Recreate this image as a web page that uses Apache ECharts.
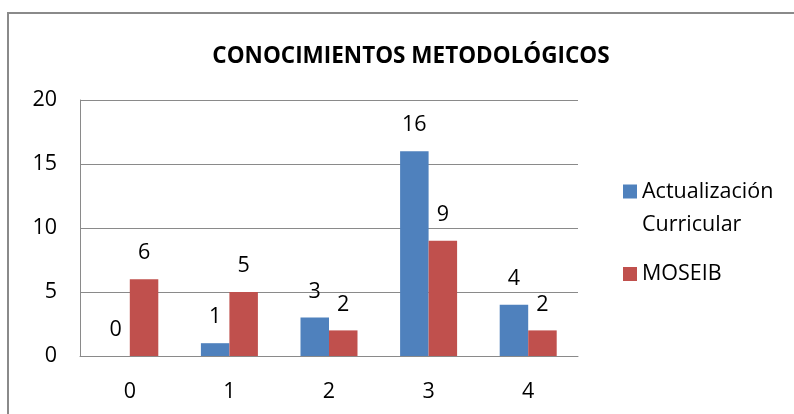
<!DOCTYPE html>
<html>
<head>
<meta charset="utf-8">
<title>Conocimientos metodológicos</title>
<script src="https://cdn.jsdelivr.net/npm/echarts@6/dist/echarts.min.js"></script>
<style>
  body { margin: 0; background: #fff; }
  #container { width: 794px; height: 414px; }
</style>
</head>
<body>
<div id="container"></div>
<script type="text/javascript">
var categories = ['0', '1', '2', '3', '4'];
var actualizacion = [0, 1, 3, 16, 4];
var moseib = [6, 5, 2, 9, 2];
var yTicks = [0, 5, 10, 15, 20];

var font = 'Open Sans';
var fs = 21.5;
var chart = echarts.init(document.getElementById('container'));

chart.setOption({
  animation: false,
  textStyle: { fontFamily: font },
  title: {
    text: 'CONOCIMIENTOS METODOLÓGICOS',
    left: 406,
    textAlign: 'center',
    top: 40,
    textStyle: { fontFamily: font, fontSize: 22.5, fontWeight: 'bold', color: '#000' }
  },
  graphic: [{
    type: 'rect',
    shape: { x: 8, y: 13, width: 800, height: 420 },
    style: { fill: null, stroke: '#8a8a8a', lineWidth: 2 },
    silent: true
  }],
  legend: [{
    orient: 'vertical',
    left: 618,
    top: 137,
    itemWidth: 14,
    itemHeight: 14,
    icon: 'rect',
    data: ['Actualización Curricular'],
    formatter: function () { return ' \nActualización\nCurricular'; },
    textStyle: { fontFamily: font, fontSize: fs, lineHeight: 33, color: '#000' }
  }, {
    orient: 'vertical',
    left: 618,
    top: 258,
    itemWidth: 14,
    itemHeight: 14,
    icon: 'rect',
    data: ['MOSEIB'],
    textStyle: { fontFamily: font, fontSize: fs, lineHeight: 22, color: '#000' }
  }],
  grid: { left: 80, top: 100, width: 498, height: 256, containLabel: false },
  xAxis: {
    type: 'category',
    data: categories,
    axisLine: { lineStyle: { color: '#8a8a8a', width: 1 } },
    axisTick: { show: false },
    axisLabel: { margin: 25, fontSize: fs, color: '#000', fontFamily: font }
  },
  yAxis: {
    type: 'value',
    min: yTicks[0],
    max: yTicks[yTicks.length - 1],
    interval: 5,
    axisLine: { show: true, lineStyle: { color: '#8a8a8a', width: 1 } },
    axisTick: { show: false },
    splitLine: { lineStyle: { color: '#8a8a8a', width: 1 } },
    axisLabel: { margin: 23, fontSize: fs, color: '#000', fontFamily: font }
  },
  series: [{
    name: 'Actualización Curricular',
    type: 'bar',
    data: actualizacion,
    barWidth: 28.5,
    barGap: '0%',
    itemStyle: { color: '#4F81BD' },
    label: { show: true, position: 'top', distance: 15, fontSize: fs, color: '#000', fontFamily: font }
  }, {
    name: 'MOSEIB',
    type: 'bar',
    data: moseib,
    barWidth: 28.5,
    barGap: '0%',
    itemStyle: { color: '#C0504D' },
    label: { show: true, position: 'top', distance: 15, fontSize: fs, color: '#000', fontFamily: font }
  }]
});
</script>
</body>
</html>
